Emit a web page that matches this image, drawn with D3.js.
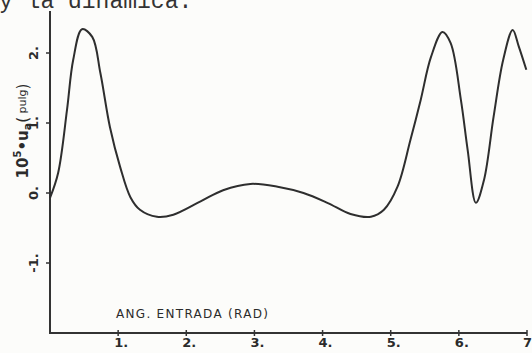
<!DOCTYPE html>
<html>
<head>
<meta charset="utf-8">
<script src="https://cdn.jsdelivr.net/npm/d3@7"></script>
<style>
  body { margin: 0; background: #fcfcfa; }
  svg { display: block; }
  .hand { font-family: 'DejaVu Sans', sans-serif; fill: #2b2b2b; }
</style>
</head>
<body>
<svg id="chart"></svg>
<script>
// angle (rad) and displacement readings
const angles = [0.0, 0.12, 0.25, 0.34, 0.47, 0.62, 0.74, 0.88, 1.03, 1.18, 1.32, 1.57, 1.81,
  2.21, 2.54, 2.94, 3.34, 3.72, 4.07, 4.41, 4.71, 4.90, 5.10, 5.29, 5.44, 5.59, 5.76,
  5.88, 6.03, 6.13, 6.25, 6.37, 6.51, 6.65, 6.79, 6.88, 6.99];
const disp = [-0.07, 0.29, 1.19, 1.9, 2.34, 2.23, 1.71, 0.94, 0.37, -0.06, -0.24, -0.34, -0.31,
  -0.12, 0.04, 0.13, 0.09, 0.0, -0.14, -0.30, -0.34, -0.24, 0.09, 0.76, 1.33, 1.94, 2.30,
  2.14, 1.33, 0.61, -0.14, 0.19, 1.09, 1.9, 2.33, 2.09, 1.76];
const xTicks = [1, 2, 3, 4, 5, 6, 7];
const yTicks = [-1, 0, 1, 2];

const width = 532, height = 353;

const svg = d3.select('#chart')
  .attr('width', width)
  .attr('height', height);

const x = d3.scaleLinear().domain([0, 7]).range([50, 527]);
const y = d3.scaleLinear().domain([-2, 2.6]).range([333, 11]);

// cut-off line of text from the page above
svg.append('text')
  .attr('x', -1)
  .attr('y', 8)
  .style('font-family', "'Liberation Mono', monospace")
  .style('font-size', '23px')
  .attr('fill', '#333')
  .text('y la dinámica.');

// axes, drawn like the pen plotter did: plain lines with short ticks
svg.append('line')
  .attr('x1', x(0)).attr('x2', x(0))
  .attr('y1', y.range()[1]).attr('y2', y.range()[0])
  .attr('stroke', '#333').attr('stroke-width', 2);

svg.append('line')
  .attr('x1', x(0) - 1).attr('x2', x(7))
  .attr('y1', y(-2)).attr('y2', y(-2))
  .attr('stroke', '#333').attr('stroke-width', 2);

svg.selectAll('.xtick')
  .data(xTicks)
  .enter()
  .append('line')
  .attr('x1', d => x(d)).attr('x2', d => x(d))
  .attr('y1', y(-2) - 3).attr('y2', y(-2) + 3)
  .attr('stroke', '#333').attr('stroke-width', 1.5);

svg.selectAll('.xlab')
  .data(xTicks)
  .enter()
  .append('text')
  .attr('class', 'hand')
  .attr('x', d => x(d) - 4)
  .attr('y', 347)
  .style('font-size', '13px')
  .style('font-weight', 'bold')
  .text(d => d + '.');

svg.selectAll('.ytick')
  .data(yTicks)
  .enter()
  .append('line')
  .attr('x1', x(0) - 4).attr('x2', x(0))
  .attr('y1', d => y(d)).attr('y2', d => y(d))
  .attr('stroke', '#333').attr('stroke-width', 1.5);

svg.selectAll('.ylab')
  .data(yTicks)
  .enter()
  .append('text')
  .attr('class', 'hand')
  .attr('text-anchor', 'middle')
  .attr('transform', d => 'translate(38,' + y(d) + ') rotate(-90)')
  .style('font-size', '13px')
  .style('font-weight', 'bold')
  .text(d => (d < 0 ? '-' + Math.abs(d) : d) + '.');

// axis titles
svg.append('text')
  .attr('class', 'hand')
  .attr('x', 116)
  .attr('y', 318)
  .style('font-size', '12px')
  .style('letter-spacing', '1.3px')
  .text('ANG. ENTRADA (RAD)');

const ylab = svg.append('text')
  .attr('class', 'hand')
  .attr('text-anchor', 'middle')
  .attr('transform', 'translate(28,131) rotate(-90)')
  .style('font-size', '15px')
  .style('font-weight', 'bold');
ylab.append('tspan').text('10');
ylab.append('tspan').attr('dy', -7).style('font-size', '10px').text('5');
ylab.append('tspan').attr('dy', 7).text('•u');
ylab.append('tspan').attr('dy', 3).style('font-size', '11px').text('a');
ylab.append('tspan').attr('dy', -3).style('font-weight', 'normal').text('(');
ylab.append('tspan').attr('dy', -2).style('font-size', '11px').style('font-weight', 'normal').text(' pulg');
ylab.append('tspan').attr('dy', 2).style('font-weight', 'normal').text(')');

// the curve
const line = d3.line()
  .x(d => x(d[0]))
  .y(d => y(d[1]))
  .curve(d3.curveCatmullRom.alpha(0.5));

svg.append('path')
  .datum(d3.zip(angles, disp))
  .attr('d', line)
  .attr('fill', 'none')
  .attr('stroke', '#2e2e2e')
  .attr('stroke-width', 2);
</script>
</body>
</html>
